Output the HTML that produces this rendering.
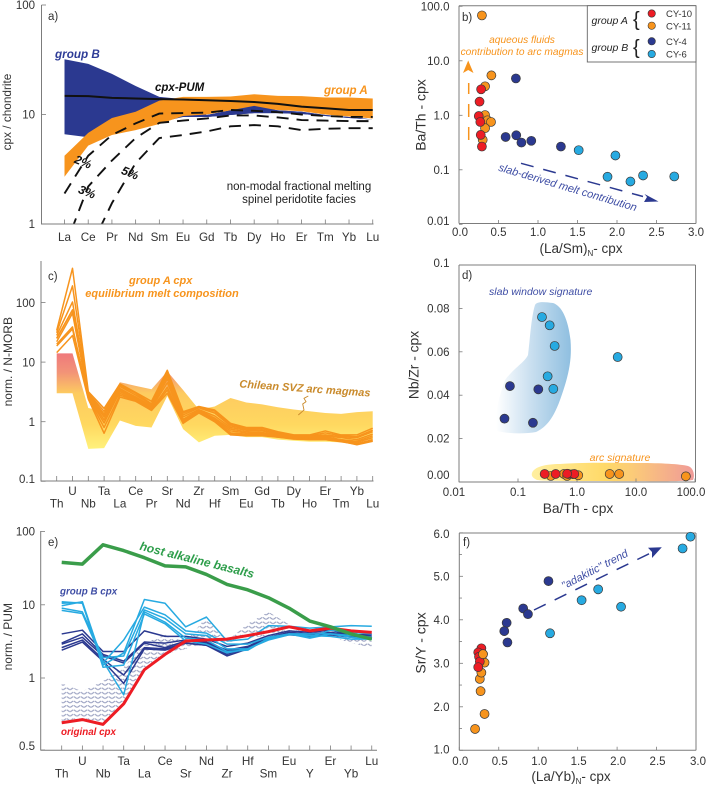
<!DOCTYPE html>
<html lang="en">
<head>
<meta charset="utf-8">
<title>Trace element geochemistry of clinopyroxene</title>
<style>
html,body{margin:0;padding:0;background:#fff}
svg{display:block;font-family:"Liberation Sans",sans-serif}
text{fill:#333}
.bi{font-weight:bold;font-style:italic}
.it{font-style:italic}
</style>
</head>
<body>
<svg id="figure" xmlns="http://www.w3.org/2000/svg" width="708" height="787" viewBox="0 0 708 787">
<defs>
<linearGradient id="svzGrad" gradientUnits="userSpaceOnUse" x1="0" y1="353" x2="0" y2="449">
<stop offset="0" stop-color="#EF787C"/><stop offset="0.2" stop-color="#F29378"/><stop offset="0.42" stop-color="#FDCB60"/><stop offset="0.75" stop-color="#FFD860"/><stop offset="1" stop-color="#FFF27C"/>
</linearGradient>
<linearGradient id="slabGrad" gradientUnits="userSpaceOnUse" x1="496" y1="0" x2="571" y2="0">
<stop offset="0" stop-color="#FFFFFF"/><stop offset="0.45" stop-color="#CBE0F0"/><stop offset="1" stop-color="#8FBFE0"/>
</linearGradient>
<linearGradient id="arcGrad" gradientUnits="userSpaceOnUse" x1="532" y1="0" x2="694" y2="0">
<stop offset="0" stop-color="#FFEFA0"/><stop offset="0.45" stop-color="#FFD968"/><stop offset="0.62" stop-color="#FBCB78"/><stop offset="1" stop-color="#F09A98"/>
</linearGradient>
<pattern id="hatch" patternUnits="userSpaceOnUse" width="7" height="4.4">
<path d="M0.2 3.4 L3.2 1.4 M3.8 1.4 L6.8 3.4" stroke="#9AA1C1" stroke-width="1.15" fill="none"/>
</pattern>
<clipPath id="clipA"><rect x="42" y="5" width="332" height="219"/></clipPath>
</defs>

<g id="panelA"></g>
<g id="panelB"></g>
<g id="panelC"></g>
<g id="panelD"></g>
<g id="panelE"></g>
<g id="panelF"></g>

<!-- panel a annotations -->
<g font-size="11">
<text x="48" y="20" font-size="11.5">a)</text>
<text class="bi" x="55" y="58" font-size="11.7" style="fill:#2E3C97">group B</text>
<text class="bi" x="155" y="91" font-size="11.5" style="fill:#111">cpx-PUM</text>
<text class="bi" x="324" y="94" font-size="11.5" style="fill:#F7941D">group A</text>
<text class="bi" x="83" y="166" font-size="12" text-anchor="middle" transform="rotate(22 83 162)" style="fill:#111">2%</text>
<text class="bi" x="87" y="196" font-size="12" text-anchor="middle" transform="rotate(22 87 192)" style="fill:#111">3%</text>
<text class="bi" x="130" y="177" font-size="12" text-anchor="middle" transform="rotate(22 130 173)" style="fill:#111">5%</text>
<text x="299" y="190" font-size="11.5" text-anchor="middle" style="fill:#222">non-modal fractional melting</text>
<text x="299" y="203" font-size="11.5" text-anchor="middle" style="fill:#222">spinel peridotite facies</text>
<text x="11" y="112" font-size="11.8" text-anchor="middle" transform="rotate(-90 11 112)">cpx / chondrite</text>
</g>

<!-- panel b annotations -->
<g>
<text x="462" y="21" font-size="11.5">b)</text>
<text class="it" x="522" y="43" font-size="10.2" text-anchor="middle" style="fill:#F7941D">aqueous fluids</text>
<text class="it" x="522" y="55" font-size="10.2" text-anchor="middle" style="fill:#F7941D">contribution to arc magmas</text>
<line x1="468.7" y1="140" x2="468.7" y2="83" stroke="#F7941D" stroke-width="1.5" stroke-dasharray="13 10"/>
<path d="M468.2 60.5 L473.5 73 L468.2 70 L463 73 Z" fill="#F7941D"/>
<line x1="521" y1="163.3" x2="643" y2="196.5" stroke="#2B3990" stroke-width="1.5" stroke-dasharray="13 10"/>
<path d="M658.5 201.5 L644.5 194 L647 197 L644 202 Z" fill="#2B3990"/>
<text class="it" x="567.7" y="191" font-size="11" text-anchor="middle" transform="rotate(16.5 567.7 187.7)" style="fill:#3F4EA5">slab-derived melt contribution</text>
<text x="581" y="253" font-size="13.5" text-anchor="middle">(La/Sm)<tspan font-size="8" dy="3">N</tspan><tspan dy="-3">- cpx</tspan></text>
<text x="425.5" y="115" font-size="14" text-anchor="middle" transform="rotate(-90 425.5 115)">Ba/Th - cpx</text>
</g>

<!-- legend -->
<g>
<rect x="587.3" y="5.7" width="108.7" height="56.3" fill="#fff" stroke="#666" stroke-width="0.9"/>
<text class="it" x="591.5" y="24" font-size="10.5" style="fill:#222">group A</text>
<text class="it" x="591.5" y="51" font-size="10.5" style="fill:#222">group B</text>
<text x="633" y="26" font-size="20" style="fill:#222">{</text>
<text x="633" y="54" font-size="20" style="fill:#222">{</text>
<circle cx="651.7" cy="13.5" r="3.7" fill="#ED1C24" stroke="#333" stroke-width="0.6"/>
<circle cx="651.7" cy="25.7" r="3.7" fill="#F7941D" stroke="#333" stroke-width="0.6"/>
<circle cx="651.7" cy="41.3" r="3.7" fill="#2B3990" stroke="#333" stroke-width="0.6"/>
<circle cx="651.7" cy="54" r="3.7" fill="#27AAE1" stroke="#333" stroke-width="0.6"/>
<text x="666" y="17" font-size="9.5">CY-10</text>
<text x="666" y="29.5" font-size="9.5">CY-11</text>
<text x="666" y="44.8" font-size="9.5">CY-4</text>
<text x="666" y="57.5" font-size="9.5">CY-6</text>
</g>

<!-- panel c annotations -->
<g>
<text x="48" y="280" font-size="11.5">c)</text>
<text class="bi" x="160.7" y="284" font-size="11" text-anchor="middle" style="fill:#F7941D">group A cpx</text>
<text class="bi" x="162" y="297" font-size="11" text-anchor="middle" style="fill:#F7941D">equilibrium melt composition</text>
<text class="bi" x="305" y="392" font-size="11" text-anchor="middle" transform="rotate(4 305 388)" style="fill:#C98A2B">Chilean SVZ arc magmas</text>
<polyline points="298.3,415 304,410 302.7,404 306,401.7 304,398.3 308.3,396" fill="none" stroke="#C98A2B" stroke-width="0.9"/>
<text x="12" y="361.7" font-size="12" text-anchor="middle" transform="rotate(-90 12 361.7)">norm. / N-MORB</text>
</g>

<!-- panel d annotations -->
<g>
<text x="462" y="279" font-size="11.5">d)</text>
<text class="it" x="540.7" y="295" font-size="10.5" text-anchor="middle" style="fill:#3F4EA5">slab window signature</text>
<text class="it" x="620" y="461" font-size="10.5" text-anchor="middle" style="fill:#F7941D">arc signature</text>
<text x="578" y="513" font-size="13.8" text-anchor="middle">Ba/Th - cpx</text>
<text x="418.5" y="365" font-size="13.8" text-anchor="middle" transform="rotate(-90 418.5 365)">Nb/Zr - cpx</text>
</g>

<!-- panel e annotations -->
<g>
<text x="48" y="546" font-size="11.5">e)</text>
<text class="bi" x="197" y="564" font-size="12" text-anchor="middle" transform="rotate(14 197 560)" style="fill:#2E9E4B">host alkaline basalts</text>
<text class="bi" x="60" y="594.5" font-size="9.8" style="fill:#3F4EA5">group B cpx</text>
<text class="bi" x="61" y="735" font-size="9.8" style="fill:#ED1C24">original cpx</text>
<text x="12" y="636.7" font-size="12" text-anchor="middle" transform="rotate(-90 12 636.7)">norm. / PUM</text>
</g>

<!-- panel f annotations -->
<g>
<text x="463" y="546" font-size="11.5">f)</text>
<line x1="534" y1="610" x2="650" y2="553.3" stroke="#2B3990" stroke-width="1.5" stroke-dasharray="13 10"/>
<path d="M661.8 547.2 L648 547.8 L652 552 L652 558 Z" fill="#2B3990"/>
<text class="it" x="595" y="573" font-size="11" text-anchor="middle" transform="rotate(-27.5 595 570)" style="fill:#3F4EA5">"adakitic" trend</text>
<text x="571" y="781" font-size="13.5" text-anchor="middle">(La/Yb)<tspan font-size="8" dy="3">N</tspan><tspan dy="-3">- cpx</tspan></text>
<text x="425.5" y="643" font-size="14" text-anchor="middle" transform="rotate(-90 425.5 643)">Sr/Y - cpx</text>
</g>
</svg>

<script>
// ---------- chart data ----------
const reeLabels = ['La','Ce','Pr','Nd','Sm','Eu','Gd','Tb','Dy','Ho','Er','Tm','Yb','Lu'];
const panelAYTicks = [100,10,1];
const groupBUpper = [32,29,23.5,18.2,14.5,13.8,9.9,10.9,12,10.9,10.6,9.9,9.5,9];
const groupBLower = [6.6,6.2,7,8,8.5,9.5,9.5,9.9,10.3,10.3,10.1,9.7,9.3,9];
const groupAUpper = [4.2,6.8,9.3,10.6,13.4,14.5,14.5,14.6,15.3,14.8,14.7,14.3,14.3,14];
const groupALower = [2.7,5.2,6.5,7.2,8.2,9.7,10,10.9,11.5,11,10.7,10,9.6,9.2];
const cpxPum = [14.8,14.7,14.2,14,13.8,13.7,13.5,13.3,13,12.5,11.8,11.4,11,11];
const melt2 = [1.9,4.2,6.5,8.3,10.2,10.3,10.4,11,10.8,10.5,10,9.7,9.5,9.5];
const melt3 = [0.6,2.2,3.8,6.1,8.4,8.8,9.2,9.8,9.8,9.4,8.9,8.8,8.7,8.7];
const melt5 = [0.2,0.55,1.55,3.6,6.1,6.5,7,7.8,8,7.8,7.2,7.4,7.5,7.5];

const panelBXTicks = [0,0.5,1,1.5,2,2.5,3];
const panelBXLabels = ['0.0','0.5','1.0','1.5','2.0','2.5','3.0'];
const panelBYTicks = [100,10,1,0.1,0.01];
const panelBYLabels = ['100.0','10.0','1.0','0.1','0.01'];
const bOrangeX = [0.29,0.41,0.33,0.33,0.36,0.405,0.33,0.30];
const bOrangeY = [68,5.4,3.4,1.01,0.81,0.755,0.58,0.354];
const bRedX = [0.28,0.26,0.25,0.27,0.275,0.29];
const bRedY = [3.0,1.78,0.97,0.755,0.437,0.267];
const bDarkX = [0.72,0.59,0.725,0.79,0.915,1.29];
const bDarkY = [4.75,0.40,0.43,0.316,0.34,0.267];
const bCyanX = [1.515,1.98,1.88,2.17,2.33,2.725];
const bCyanY = [0.229,0.183,0.0745,0.061,0.0787,0.0755];

const panelCLabels = ['Th','U','Nb','Ta','La','Ce','Pr','Sr','Nd','Zr','Hf','Sm','Eu','Gd','Tb','Dy','Ho','Er','Tm','Yb','Lu'];
const panelCYTicks = [100,10,1,0.1];
const svzUpper = [14,14,1.7,1.5,4.6,4,3.5,7,3.4,1.6,1.8,2.5,2.1,1.95,1.75,1.6,1.5,1.4,1.35,1.45,1.5];
const svzLower = [3,3,0.35,0.36,1.05,0.85,0.8,2.7,0.75,0.45,0.58,0.6,0.55,0.55,0.5,0.48,0.46,0.46,0.45,0.48,0.5];
const meltLines = [
  [34,375,3.2,1.67,4.3,3.1,2.2,7.3,1.47,1.8,1.57,0.94,0.8,0.8,0.68,0.6,0.6,0.7,0.6,0.6,0.78],
  [31,190,3.0,1.5,4.1,3.0,2.0,6.8,1.4,1.75,1.5,0.9,0.78,0.76,0.66,0.59,0.58,0.65,0.58,0.56,0.72],
  [28,102,2.9,1.35,3.9,2.8,1.95,6.3,1.3,1.7,1.4,0.85,0.75,0.72,0.63,0.58,0.57,0.6,0.56,0.54,0.68],
  [25,75,2.8,1.2,3.6,2.6,1.85,5.8,1.2,1.6,1.25,0.8,0.72,0.7,0.62,0.56,0.55,0.58,0.54,0.5,0.62],
  [22,66,2.7,1.07,3.4,2.5,1.75,5.2,1.1,1.55,1.15,0.75,0.68,0.66,0.6,0.54,0.53,0.56,0.5,0.47,0.58],
  [25,75,2.6,0.95,3.2,2.4,1.7,4.5,1.05,1.5,1.1,0.7,0.65,0.64,0.58,0.53,0.52,0.54,0.48,0.45,0.54],
  [20,39,2.5,1.3,3.0,2.3,1.6,3.8,1.0,1.47,1.05,0.65,0.62,0.62,0.56,0.52,0.51,0.52,0.47,0.43,0.5],
  [18.6,36,2.5,0.8,2.8,2.25,1.55,3.4,0.94,1.47,1,0.62,0.6,0.6,0.55,0.52,0.5,0.5,0.46,0.42,0.48],
  [14.4,28,2.4,0.64,2.6,2.2,1.55,3.0,0.94,1.4,1,0.6,0.58,0.58,0.55,0.51,0.5,0.5,0.47,0.41,0.47]
];

const panelDXTicks = [0.01,0.1,1,10,100];
const panelDXLabels = ['0.01','0.1','1.0','10.0','100.0'];
const panelDYTicks = [0,0.02,0.04,0.06,0.08,0.1];
const panelDYLabels = ['0.00','0.02','0.04','0.06','0.08','0.1'];
const dOrangeX = [70,3.58,5.2,1.05,0.84,0.6,0.36,0.68];
const dOrangeY = [0.0026,0.0037,0.0037,0.0031,0.0036,0.0037,0.0028,0.0028];
const dRedX = [0.283,0.435,0.71,0.9,0.68];
const dRedY = [0.0037,0.0037,0.0037,0.0037,0.0038];
const dDarkX = [0.073,0.221,0.059,0.179];
const dDarkY = [0.0442,0.0427,0.0292,0.0273];
const dCyanX = [0.255,0.344,0.418,4.89,0.318,0.397];
const dCyanY = [0.076,0.0722,0.0627,0.0576,0.0487,0.0429];

const panelELabels = ['Th','U','Nb','Ta','La','Ce','Sr','Nd','Zr','Hf','Sm','Eu','Y','Er','Yb','Lu'];
const panelEYTicks = [100,10,1,0.5];
const hostBasalt = [38,36,66,55,44,34,33,26,19,16,12.5,9,6,5,4,3.4];
const originalCpx = [0.65,0.67,0.64,0.78,1.3,2.1,3.2,3.3,3.4,3.8,4.3,5,4.4,4.8,4.4,4.2];
const hatchUpper = [0.95,0.88,0.97,1.4,3,3.9,3.1,6.8,3.2,5.5,8,5.4,4.5,4,3.5,3.2];
const hatchLower = [0.66,0.68,0.65,0.8,1.3,2.1,2.5,3,3,3.5,3.8,4,3.8,3.7,3,2.6];
const groupBDark = [
  [4.0,4.5,2.3,2.3,4.4,3.7,3.7,3.4,2.7,3,3.8,4.4,4.2,4.5,3.9,3.7],
  [3,4,2.1,1.7,3.1,3,3.3,3.1,2.4,2.7,3.6,4.2,4,4.2,3.9,3.9],
  [2.9,3.6,2,1.6,3,2.6,3.2,3,2.3,2.6,3.5,4.1,3.9,4.1,3.8,3.5],
  [2.6,3.3,1.8,1.1,2.6,2.5,3,2.8,2.1,2.6,3.4,4,3.8,3.9,3.7,3.4],
  [2.4,3.1,1.7,0.95,2.5,2.4,3,2.8,2,2.5,3.4,3.9,3.7,3.9,3.6,3.5]
];
const groupBCyan = [
  [11,10.5,1.5,2.2,11.8,10.5,5,6.8,3.2,3.4,5.2,5.1,4.8,5,5.2,5.1],
  [9.7,11,1.6,3.3,9.3,7.3,4.4,4.1,2.9,2.9,3.6,4,3.6,4.5,4.2,4],
  [9,8,1.9,2,8.5,6.5,4,3.8,2.5,2.5,3.4,4,3.5,4,3.6,3.4],
  [8.4,7.6,1.7,0.85,8,5.8,3.5,3.3,2.3,2.4,3.5,4,4,4,3.8,3.6],
  [10.5,10.8,1.4,1.5,7.5,5.5,3.2,2.9,2.2,2.5,3.3,3.9,3.8,3.7,3.4,3.4]
];

const panelFXTicks = [0,0.5,1,1.5,2,2.5,3];
const panelFXLabels = ['0.0','0.5','1.0','1.5','2.0','2.5','3.0'];
const panelFYTicks = [1,2,3,4,5,6];
const panelFYLabels = ['1.0','2.0','3.0','4.0','5.0','6.0'];
const panelFYMinor = [1.5,2.5,3.5,4.5,5.5];
const fOrangeX = [0.2,0.32,0.27,0.26,0.28,0.32,0.30];
const fOrangeY = [1.49,1.835,2.36,2.64,2.785,3.015,3.21];
const fRedX = [0.28,0.24,0.25,0.26,0.24];
const fRedY = [3.345,3.25,3.15,3.04,2.91];
const fDarkX = [1.13,0.81,0.87,0.60,0.57,0.61];
const fDarkY = [4.89,4.26,4.13,3.93,3.74,3.48];
const fCyanX = [2.93,2.83,1.76,1.55,2.05,1.15];
const fCyanY = [5.91,5.64,4.70,4.45,4.30,3.69];

// ---------- scales ----------
const log = Math.log10;
const ax = { x: i => 64.5 + i * 23.71, y: v => 224 - 109.5 * log(v) };
const bx = { x: v => 459 + v * 79, y: v => 115.3 - 54.5 * log(v) };
const cx = { x: i => 56.7 + i * 15.8, y: v => 421.7 - 59.6 * log(v) };
const dx = { x: v => 459 + (log(v) + 2) * 59, y: v => 482 - v * 2170 };
const ex = { x: i => 61.7 + i * 20.67, y: v => v >= 1 ? 678 - 73.2 * log(v) : 678 + 72 * (-log(v) / log(2)) };
const fx = { x: v => 459.3 + v * 78.9, y: v => 750.3 - (v - 1) * 43.5 };

// ---------- helpers ----------
const NS = 'http://www.w3.org/2000/svg';
const AXIS = '#7c7c7c';
function mk(parent, tag, attrs) {
  const el = document.createElementNS(NS, tag);
  for (const k in attrs) el.setAttribute(k, attrs[k]);
  parent.appendChild(el);
  return el;
}
function pts(scale, arr) {
  return arr.map((v, i) => scale.x(i).toFixed(2) + ',' + scale.y(v).toFixed(2)).join(' ');
}
function bandPts(scale, up, lo, from, to) {
  const a = [], b = [];
  for (let i = from; i <= to; i++) {
    a.push(scale.x(i).toFixed(2) + ',' + scale.y(up[i]).toFixed(2));
    b.unshift(scale.x(i).toFixed(2) + ',' + scale.y(lo[i]).toFixed(2));
  }
  return a.concat(b).join(' ');
}
function axisLine(parent, x1, y1, x2, y2) {
  const el = mk(parent, 'line', { x1, y1, x2, y2, stroke: AXIS, 'stroke-width': 1 });
  
  
}
function tick(parent, x1, y1, x2, y2) {
  const el = mk(parent, 'line', { x1, y1, x2, y2, stroke: AXIS, 'stroke-width': 0.8 });
  
  
}
function label(parent, str, x, y, anchor, size) {
  const el = mk(parent, 'text', { x, y, 'text-anchor': anchor, 'font-size': size });
  el.textContent = str;
  
  
}
function scatter(parent, scale, xs, ys, fill) {
  xs.forEach((v, i) => {
    const el = mk(parent, 'circle', { cx: scale.x(v).toFixed(2), cy: scale.y(ys[i]).toFixed(2), r: 4.5, fill, stroke: '#3a3a3a', 'stroke-width': 0.7 });
    
    
  });
}
function series(parent, scale, arr, stroke, width, name, dash) {
  const el = mk(parent, 'polyline', { points: pts(scale, arr), fill: 'none', stroke, 'stroke-width': width, 'stroke-linejoin': 'round' });
  if (dash) el.setAttribute('stroke-dasharray', dash);
  
  
  return el;
}
function band(parent, scale, up, lo, from, to, fill, name) {
  const el = mk(parent, 'polygon', { points: bandPts(scale, up, lo, from, to), fill });
  
  
}

// ---------- panel a ----------
const pa = document.getElementById('panelA');
band(pa, ax, groupBUpper, groupBLower, 0, 13, '#2B3990', 'group-b-band');
band(pa, ax, groupAUpper, groupALower, 0, 13, '#F7941D', 'group-a-band');
band(pa, ax, groupBUpper, groupBLower, 6, 13, '#2B3990', 'group-b-band-right');
series(pa, ax, cpxPum, '#111', 2, 'cpx-pum-line');
[melt2, melt3, melt5].forEach(m => {
  const el = series(pa, ax, m, '#111', 1.9, 'melting-curve', '12 8');
  el.setAttribute('clip-path', 'url(#clipA)');
});
axisLine(pa, 41.5, 5, 41.5, 224.5);
axisLine(pa, 41, 224, 373.5, 224);
panelAYTicks.forEach(v => {
  tick(pa, 41.5, ax.y(v), 46, ax.y(v));
  label(pa, String(v), 35, Math.min(ax.y(v) + 4, 229) , 'end', 11.5);
});
reeLabels.forEach((s, i) => {
  tick(pa, ax.x(i), 224, ax.x(i), 219.5);
  label(pa, s, ax.x(i), 241, 'middle', 11.7);
});

// ---------- panel b ----------
const pb = document.getElementById('panelB');
const pbAxes = () => {
  axisLine(pb, 459, 5.7, 459, 223.5);
  axisLine(pb, 459, 223.5, 696, 223.5);
  axisLine(pb, 459, 5.7, 696, 5.7);
  axisLine(pb, 696, 5.7, 696, 223.5);
};
pbAxes();
panelBXTicks.forEach((v, i) => {
  tick(pb, bx.x(v), 223.5, bx.x(v), 220);
  label(pb, panelBXLabels[i], bx.x(v) + (i === 0 ? 1 : 0), 236, 'middle', 11.5);
});
panelBYTicks.forEach((v, i) => {
  tick(pb, 459, bx.y(v), 462.5, bx.y(v));
  label(pb, panelBYLabels[i], 449.5, bx.y(v) + (v === 0.01 ? 0.5 : 4) + (v === 100 ? 0 : 0), 'end', 11.5);
});
scatter(pb, bx, bOrangeX, bOrangeY, '#F7941D');
scatter(pb, bx, bRedX, bRedY, '#ED1C24');
scatter(pb, bx, bDarkX, bDarkY, '#2B3990');
scatter(pb, bx, bCyanX, bCyanY, '#27AAE1');

// ---------- panel c ----------
const pc = document.getElementById('panelC');
band(pc, cx, svzUpper, svzLower, 0, 20, 'url(#svzGrad)', 'svz-arc-magma-band');
meltLines.forEach(l => series(pc, cx, l, '#F7941D', 1.5, 'group-a-melt-line'));
axisLine(pc, 41, 261, 41, 481.5);
axisLine(pc, 41, 481, 373.5, 481);
panelCYTicks.forEach(v => {
  tick(pc, 41, cx.y(v), 45.5, cx.y(v));
  label(pc, String(v), 35, cx.y(v) + (v === 0.1 ? 1.5 : 4.5), 'end', 11.5);
});
panelCLabels.forEach((s, i) => {
  tick(pc, cx.x(i), 481, cx.x(i), 476);
  label(pc, s, cx.x(i), i % 2 ? 495 : 507.5, 'middle', 11.7);
});

// ---------- panel d ----------
const pd = document.getElementById('panelD');
const slab = mk(pd, 'path', { d: 'M535 305 C537 301 545 302 553 303 C562 306 568 319 570.5 340 C572 360 569 375 560 400 C552 422 544 428 536 432 C525 434 510 434 497 431 C495 420 496 405 505 380 C515 367 525 362 528 355 C530 340 531 318 535 305 Z', fill: 'url(#slabGrad)' });


const arc = mk(pd, 'path', { d: 'M532 473 C534 467 545 464 560 464 C590 462 620 463 640 463 C660 463 680 464 688 466 C694 468 695 476 693 480 C680 482 640 481 590 481 C565 481 545 481 537 480 C533 478 531 476 532 473 Z', fill: 'url(#arcGrad)' });


axisLine(pd, 459, 265, 459, 482.3);
axisLine(pd, 459, 482, 695.5, 482);
axisLine(pd, 459, 265, 695.5, 265);
axisLine(pd, 695.5, 265, 695.5, 482);
panelDXTicks.forEach((v, i) => {
  tick(pd, dx.x(v), 482, dx.x(v), 478.5);
  label(pd, panelDXLabels[i], dx.x(v) + (i === 0 ? -5 : i === 4 ? -4 : 0), 496, 'middle', 11.5);
});
panelDYTicks.forEach((v, i) => {
  tick(pd, 459, dx.y(v), 462.5, dx.y(v));
  label(pd, panelDYLabels[i], 449.5, dx.y(v) + (v === 0 ? -3 : v === 0.1 ? 2 : 4), 'end', 11.5);
});
scatter(pd, dx, dOrangeX, dOrangeY, '#F7941D');
scatter(pd, dx, dRedX, dRedY, '#ED1C24');
scatter(pd, dx, dDarkX, dDarkY, '#2B3990');
scatter(pd, dx, dCyanX, dCyanY, '#27AAE1');

// ---------- panel e ----------
const pe = document.getElementById('panelE');
band(pe, ex, hatchUpper, hatchLower, 0, 15, 'url(#hatch)', 'melting-model-hatched-band');
groupBDark.forEach(l => series(pe, ex, l, '#2B3990', 1.5, 'group-b-cy4-line'));
groupBCyan.forEach(l => series(pe, ex, l, '#27AAE1', 1.5, 'group-b-cy6-line'));
series(pe, ex, originalCpx, '#ED1C24', 3, 'original-cpx-line');
series(pe, ex, hostBasalt, '#3A9D4A', 3.5, 'host-basalt-line');
axisLine(pe, 40.7, 531, 40.7, 750.5);
axisLine(pe, 40.7, 750.3, 377, 750.3);
panelEYTicks.forEach(v => {
  tick(pe, 40.7, ex.y(v), 45, ex.y(v));
  label(pe, String(v), 35, ex.y(v) + (v === 0.5 ? 0 : 4), 'end', 11.5);
});
panelELabels.forEach((s, i) => {
  tick(pe, ex.x(i), 750.3, ex.x(i), 745.5);
  label(pe, s, ex.x(i), i % 2 ? 765 : 777.5, 'middle', 11.7);
});

// ---------- panel f ----------
const pf = document.getElementById('panelF');
axisLine(pf, 459.3, 533, 459.3, 750.3);
axisLine(pf, 459.3, 750.3, 696, 750.3);
axisLine(pf, 459.3, 533, 696, 533);
axisLine(pf, 696, 533, 696, 750.3);
panelFXTicks.forEach((v, i) => {
  tick(pf, fx.x(v), 750.3, fx.x(v), 746.8);
  label(pf, panelFXLabels[i], fx.x(v) + (i === 6 ? 2 : 1), 765, 'middle', 11.5);
});
panelFYTicks.forEach((v, i) => {
  tick(pf, 459.3, fx.y(v), 463, fx.y(v));
  label(pf, panelFYLabels[i], 449.5, fx.y(v) + (v === 1 ? 3 : v === 6 ? 5 : 4), 'end', 11.5);
});
panelFYMinor.forEach(v => tick(pf, 459.3, fx.y(v), 462, fx.y(v)));
scatter(pf, fx, fOrangeX, fOrangeY, '#F7941D');
scatter(pf, fx, fRedX, fRedY, '#ED1C24');
scatter(pf, fx, [fOrangeX[6]], [fOrangeY[6]], '#F7941D');
scatter(pf, fx, fDarkX, fDarkY, '#2B3990');
scatter(pf, fx, fCyanX, fCyanY, '#27AAE1');
</script>
</body>
</html>
